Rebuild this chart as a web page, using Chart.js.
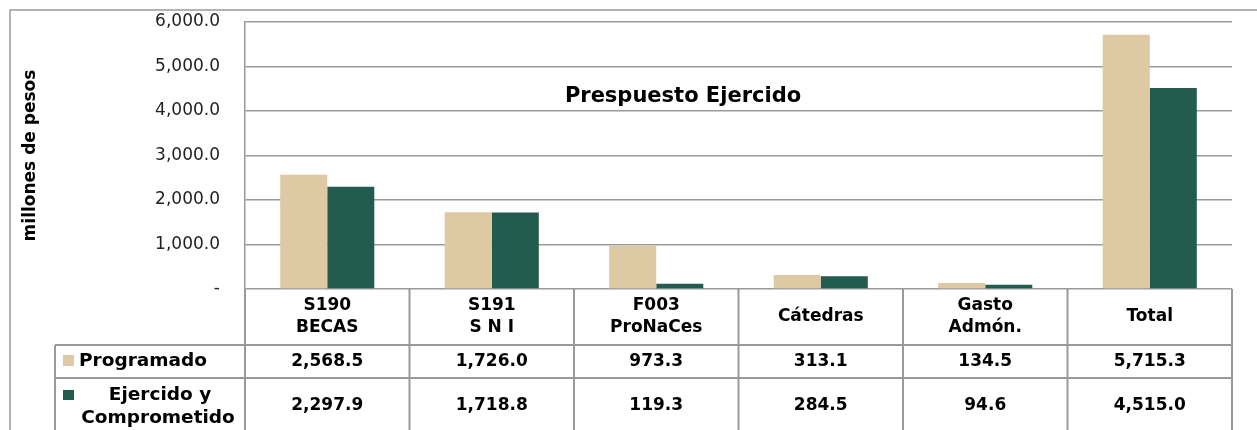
<!DOCTYPE html>
<html>
<head>
<meta charset="utf-8">
<script src="https://cdn.jsdelivr.net/npm/chart.js@4.4.1/dist/chart.umd.min.js"></script>
<style>
  html, body { margin: 0; padding: 0; background: #fff; }
</style>
</head>
<body>
<canvas id="g-presupuesto" width="1257" height="430"></canvas>
<script>
// datos
var categorias = [['S190', 'BECAS'], ['S191', 'S N I'], ['F003', 'ProNaCes'], ['Cátedras'], ['Gasto', 'Admón.'], ['Total']];
var series = ['Programado', 'Ejercido y Comprometido'];
var programado = [2568.5, 1726.0, 973.3, 313.1, 134.5, 5715.3];
var ejercido = [2297.9, 1718.8, 119.3, 284.5, 94.6, 4515.0];
var ticksY = [0, 1000, 2000, 3000, 4000, 5000, 6000];

var fuente = "'DejaVu Sans', sans-serif";
var gris = '#9a9a9a';
var colores = ['#DDC9A3', '#235B4E'];

function fmt(v) {
  return v.toLocaleString('en-US', { minimumFractionDigits: 1, maximumFractionDigits: 1 });
}

// marco, titulo y tabla de datos
var tablaPlugin = {
  id: 'tabla',
  beforeDraw: function (chart) {
    var ctx = chart.ctx;
    ctx.save();
    ctx.strokeStyle = gris;
    ctx.lineWidth = 1.5;
    ctx.beginPath();
    ctx.moveTo(10, 430);
    ctx.lineTo(10, 10);
    ctx.lineTo(1257, 10);
    ctx.stroke();
    ctx.restore();
  },
  afterDraw: function (chart) {
    var ctx = chart.ctx, xs = chart.scales.x, area = chart.chartArea;
    var n = categorias.length;
    var bordes = [area.left];
    for (var i = 1; i < n; i++) {
      bordes.push((xs.getPixelForValue(i - 1) + xs.getPixelForValue(i)) / 2);
    }
    bordes.push(area.right);

    var yCab = area.bottom, yF1 = 345, yF2 = 378, yFin = 440, xLbl = 55;

    ctx.save();
    // titulo
    ctx.fillStyle = '#000';
    ctx.font = 'bold 21px ' + fuente;
    ctx.textAlign = 'center';
    ctx.textBaseline = 'middle';
    ctx.fillText('Prespuesto Ejercido', 683, 97);

    // lineas
    ctx.strokeStyle = gris;
    ctx.lineWidth = 2;
    ctx.beginPath();
    ctx.moveTo(xLbl, yF1); ctx.lineTo(area.right, yF1);
    ctx.moveTo(xLbl, yF2); ctx.lineTo(area.right, yF2);
    ctx.moveTo(xLbl, yF1); ctx.lineTo(xLbl, yFin);
    bordes.forEach(function (b) { ctx.moveTo(b, yCab); ctx.lineTo(b, yFin); });
    ctx.stroke();

    // cabecera
    ctx.font = 'bold 17px ' + fuente;
    categorias.forEach(function (lineas, i) {
      var cx = (bordes[i] + bordes[i + 1]) / 2;
      var cy = (yCab + yF1) / 2;
      lineas.forEach(function (t, k) {
        ctx.fillText(t, cx, cy + (k - (lineas.length - 1) / 2) * 22);
      });
    });

    // valores
    [programado, ejercido].forEach(function (serie, s) {
      var cy = s === 0 ? (yF1 + yF2) / 2 : 406;
      serie.forEach(function (v, i) {
        ctx.fillText(fmt(v), (bordes[i] + bordes[i + 1]) / 2, cy);
      });
    });

    // etiquetas de filas con muestra de color
    ctx.fillStyle = colores[0];
    ctx.fillRect(63, 355, 11, 11);
    ctx.fillStyle = colores[1];
    ctx.fillRect(63, 390, 11, 10);
    ctx.fillStyle = '#000';
    ctx.font = 'bold 18.5px ' + fuente;
    ctx.textAlign = 'left';
    ctx.fillText(series[0], 79, (yF1 + yF2) / 2);
    ctx.textAlign = 'center';
    ctx.fillText('Ejercido y', 160, 395);
    ctx.fillText('Comprometido', 158, 418);
    ctx.restore();
  }
};

var idhtml = document.getElementById('g-presupuesto').getContext('2d');
var g_barras = new Chart(idhtml, {
  type: 'bar',
  data: {
    labels: categorias,
    datasets: [{
      label: series[0],
      data: programado,
      backgroundColor: colores[0],
      borderWidth: 0
    }, {
      label: series[1],
      data: ejercido,
      backgroundColor: colores[1],
      borderWidth: 0
    }]
  },
  options: {
    responsive: false,
    animation: false,
    devicePixelRatio: 1,
    categoryPercentage: 0.572,
    barPercentage: 1,
    layout: { padding: { left: 0, right: 25, top: 22, bottom: 141 } },
    plugins: {
      legend: { display: false },
      tooltip: { enabled: false }
    },
    scales: {
      x: { display: false },
      y: {
        min: 0,
        max: 6000,
        afterBuildTicks: function (s) { s.ticks = ticksY.map(function (v) { return { value: v }; }); },
        afterFit: function (s) { s.width = 245; },
        ticks: {
          padding: 0,
          color: '#222',
          font: { family: fuente, size: 17 },
          callback: function (v) { return v === 0 ? '-' : fmt(v); }
        },
        grid: { color: gris, lineWidth: 1.5, drawTicks: true, tickLength: 25, tickColor: 'rgba(0,0,0,0)' },
        border: { display: true, color: gris, width: 1.5 },
        title: {
          display: true,
          text: 'millones de pesos',
          color: '#000',
          font: { family: fuente, size: 17, weight: 'bold' },
          padding: { top: 20, bottom: 0 }
        }
      }
    }
  },
  plugins: [tablaPlugin]
});
</script>
</body>
</html>
